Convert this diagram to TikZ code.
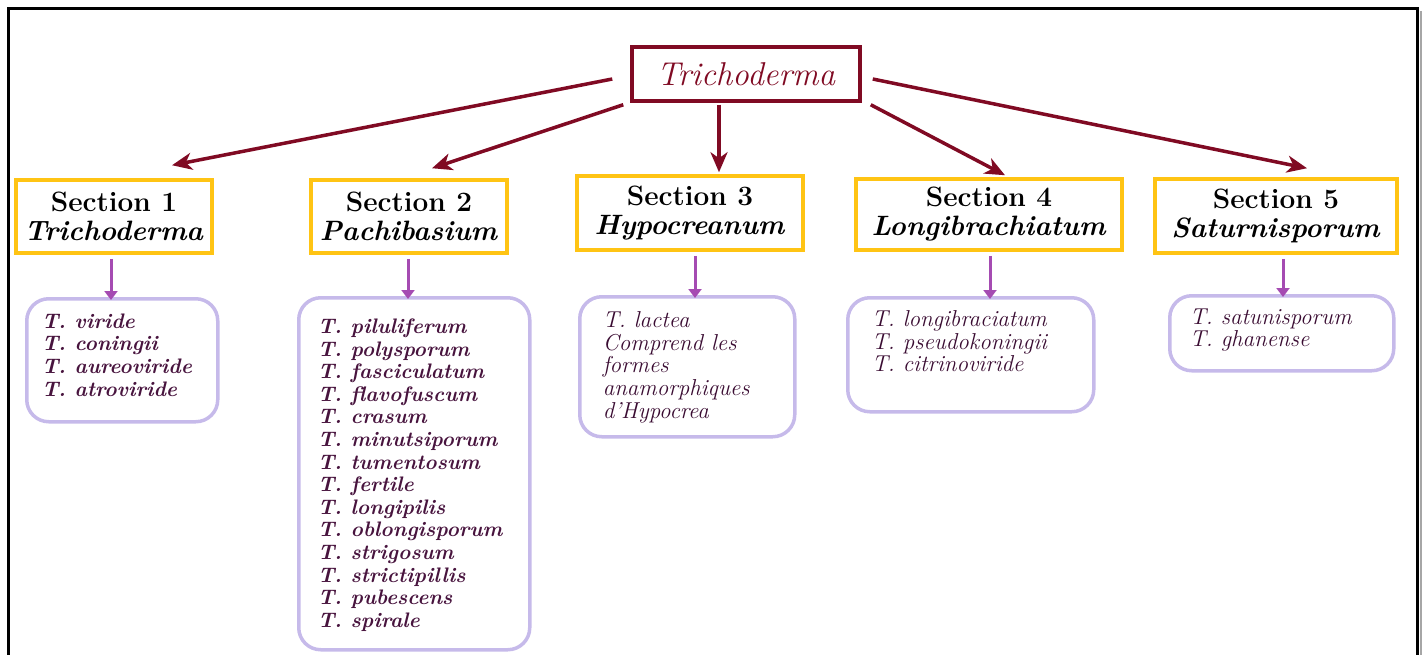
\documentclass[tikz,border=0pt]{standalone}
\usepackage{tikz}
\usetikzlibrary{arrows.meta,calc}
\newcommand{\taxa}[3]{\parbox[t][#2pt][t]{#1pt}{#3}}
\definecolor{trred}{RGB}{128,10,35}
\definecolor{trgold}{RGB}{255,196,20}
\definecolor{trlav}{RGB}{198,186,234}
\definecolor{trpink}{RGB}{165,75,178}
\definecolor{trtext}{RGB}{72,20,62}
\definecolor{trtextdk}{RGB}{58,12,50}
\tikzset{
  trTop/.style={draw=trred, line width=3.5pt, fill=white, text=trred,
                minimum width=228pt, minimum height=54pt,
                font=\fontsize{33}{38}\selectfont\itshape},
  trSec/.style={draw=trgold, line width=3.5pt, fill=white, align=center,
                inner sep=0pt, font=\fontsize{28}{29}\selectfont\bfseries},
  trList/.style={draw=trlav, line width=3.5pt, rounded corners=22pt,
                 anchor=north west, text=trtext,
                 font=\fontsize{21}{22.6}\selectfont\bfseries\itshape},
  trListLight/.style={trList, text=trtextdk,
                      font=\fontsize{23}{22.6}\selectfont\itshape},
  trArrow/.style={-{Stealth[length=20pt,width=17pt,inset=6pt]},
                  line width=3.5pt, draw=trred},
  trDown/.style={-{Triangle[length=9pt,width=13pt]}, line width=3pt,
                 draw=trpink}
}

\begin{document}
\begin{tikzpicture}[x=1pt,y=-1pt]
  \useasboundingbox (0,0) rectangle (1424,655);
  % frame
  \draw[black!35, line width=2pt] (1420.5,11) -- (1420.5,655);
  \draw[black, line width=3pt] (8.5,655) -- (8.5,8.5) -- (1417,8.5) -- (1417,655);

  \node[trTop] (top) at (746,74) {Trichoderma};

  \node[trSec, minimum width=196pt, minimum height=73pt] (sec1) at (114,216.5)
        {Section 1\\\textit{Trichoderma}};
  \node[trSec, minimum width=196pt, minimum height=73pt] (sec2) at (409,216.5)
        {Section 2\\\textit{Pachibasium}};
  \node[trSec, minimum width=226pt, minimum height=74pt] (sec3) at (690,213)
        {Section 3\\\textit{Hypocreanum}};
  \node[trSec, minimum width=266pt, minimum height=71pt] (sec4) at (989,214.5)
        {Section 4\\\textit{Longibrachiatum}};
  \node[trSec, minimum width=242pt, minimum height=74pt] (sec5) at (1276,216)
        {Section 5\\\textit{Saturnisporum}};

  \node[trList, inner xsep=15pt, inner ysep=15pt] (list1) at (25,297)
        {\taxa{161}{93}{T.~viride\\T.~coningii\\T.~aureoviride\\T.~atroviride}};
  \node[trList, inner xsep=19pt, inner ysep=21pt] (list2) at (297,296)
        {\taxa{193}{310}{T.~piluliferum\\T.~polysporum\\T.~fasciculatum\\
         T.~flavofuscum\\T.~crasum\\T.~minutsiporum\\T.~tumentosum\\
         T.~fertile\\T.~longipilis\\T.~oblongisporum\\T.~strigosum\\
         T.~strictipillis\\T.~pubescens\\T.~spirale}};
  \node[trListLight, inner xsep=23pt, inner ysep=15pt] (list3) at (578,295)
        {\taxa{169}{110}{T.~lactea\\Comprend~les\\formes\\anamorphiques\\d'Hypocrea}};
  \node[trListLight, inner xsep=24pt, inner ysep=13pt] (list4) at (846,296)
        {\taxa{198}{88}{T.~longibraciatum\\T.~pseudokoningii\\T.~citrinoviride}};
  \node[trListLight, inner xsep=20pt, inner ysep=13pt] (list5) at (1168,294)
        {\taxa{184}{49}{T.~satunisporum\\T.~ghanense}};

  \draw[trArrow] ([shift={(-18,5)}]top.west) -- ([shift={(58,-13)}]sec1.north);
  \draw[trArrow] ([shift={(-7,2)}]top.south west) -- ([shift={(23,-10)}]sec2.north);
  \draw[trArrow] ([shift={(-27,2)}]top.south) -- ([shift={(29,-2)}]sec3.north);
  \draw[trArrow] ([shift={(9,2)}]top.south east) -- ([shift={(16,-2)}]sec4.north);
  \draw[trArrow] ([shift={(11,5)}]top.east) -- ([shift={(31,-9)}]sec5.north);

  \draw[trDown] ($(sec1.south)+(-3,4)$) -- ($(sec1.south |- list1.north)+(-3,3)$);
  \draw[trDown] ($(sec2.south)+(-1,4)$) -- ($(sec2.south |- list2.north)+(-1,3)$);
  \draw[trDown] ($(sec3.south)+(5,4)$) -- ($(sec3.south |- list3.north)+(5,3)$);
  \draw[trDown] ($(sec4.south)+(1,4)$) -- ($(sec4.south |- list4.north)+(1,3)$);
  \draw[trDown] ($(sec5.south)+(7,4)$) -- ($(sec5.south |- list5.north)+(7,3)$);
\end{tikzpicture}
\end{document}
